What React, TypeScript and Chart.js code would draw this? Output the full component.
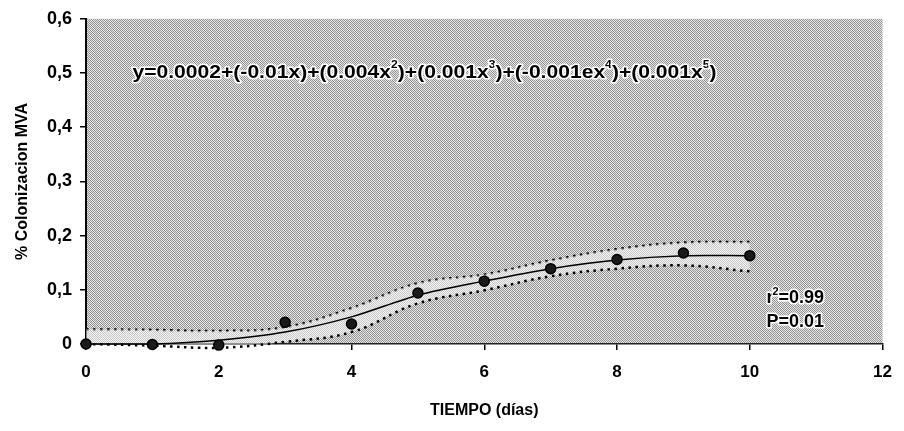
import React, { useEffect, useRef } from 'react';
import { Chart, registerables } from 'chart.js';

Chart.register(...registerables);

const days = [0, 1, 2, 3, 4, 5, 6, 7, 8, 9, 10];
const observed = [0, -0.001, -0.002, 0.04, 0.037, 0.094, 0.116, 0.139, 0.156, 0.168, 0.163];
const fitted = [0, 0, 0.007, 0.022, 0.05, 0.09, 0.116, 0.139, 0.155, 0.163, 0.163];
const upperBand = [0.027, 0.026, 0.024, 0.031, 0.066, 0.112, 0.128, 0.154, 0.175, 0.187, 0.188];
const lowerBand = [0, -0.003, -0.007, 0.004, 0.022, 0.075, 0.099, 0.125, 0.139, 0.145, 0.134];
const xTicks = [0, 2, 4, 6, 8, 10, 12];
const yTicks = [0, 0.1, 0.2, 0.3, 0.4, 0.5, 0.6];

const equationParts: [string, boolean][] = [
  ['y=0.0002+(-0.01x)+(0.004x', false],
  ['2', true],
  [')+(0.001x', false],
  ['3', true],
  [')+(-0.001ex', false],
  ['4', true],
  [')+(0.001x', false],
  ['5', true],
  [')', false],
];

const FONT = '"Liberation Sans", Arial, sans-serif';

function makePattern(ctx: CanvasRenderingContext2D) {
  const c = document.createElement('canvas');
  const n = 6;
  c.width = n;
  c.height = n;
  const g = c.getContext('2d')!;
  for (let y = 0; y < n; y++) {
    for (let x = 0; x < n; x++) {
      const dark = (x + y) % 2 === 0;
      const shade = (x + 2 * y) % 3 === 0;
      g.fillStyle = dark ? (shade ? '#858585' : '#9c9c9c') : (shade ? '#d8d8d8' : '#ececec');
      g.fillRect(x, y, 1, 1);
    }
  }
  return ctx.createPattern(c, 'repeat');
}

const backgroundPlugin = {
  id: 'plotBackground',
  beforeDraw(chart: any) {
    const { ctx, chartArea } = chart;
    ctx.save();
    ctx.fillStyle = makePattern(ctx) || '#b8b8b8';
    ctx.fillRect(chartArea.left, chartArea.top, chartArea.right - chartArea.left, chartArea.bottom - chartArea.top);
    ctx.restore();
  },
};

function haloText(ctx: CanvasRenderingContext2D, text: string, x: number, y: number) {
  ctx.lineWidth = 3;
  ctx.strokeStyle = '#ffffff';
  ctx.lineJoin = 'round';
  ctx.strokeText(text, x, y);
  ctx.fillStyle = '#000000';
  ctx.fillText(text, x, y);
}

const annotationPlugin = {
  id: 'annotations',
  afterDatasetsDraw(chart: any) {
    const { ctx } = chart;
    const xs = chart.scales.x;
    const ys = chart.scales.y;
    ctx.save();
    ctx.textBaseline = 'middle';
    ctx.textAlign = 'left';
    const main = `bold 19px ${FONT}`;
    const sup = `bold 11px ${FONT}`;
    let total = 0;
    for (const [t, s] of equationParts) {
      ctx.font = s ? sup : main;
      total += ctx.measureText(t).width;
    }
    const x0 = xs.getPixelForValue(0.7);
    const x1 = xs.getPixelForValue(9.5);
    const yEq = ys.getPixelForValue(0.5);
    const scale = (x1 - x0) / total;
    ctx.translate(x0, yEq);
    ctx.scale(scale, 1);
    let cx = 0;
    for (const [t, s] of equationParts) {
      ctx.font = s ? sup : main;
      haloText(ctx, t, cx, s ? -8 : 0);
      cx += ctx.measureText(t).width;
    }
    ctx.setTransform(1, 0, 0, 1, 0, 0);
    const rx = xs.getPixelForValue(10.25);
    const ry = ys.getPixelForValue(0.084);
    const py = ys.getPixelForValue(0.04);
    const rmain = `bold 18px ${FONT}`;
    ctx.font = rmain;
    haloText(ctx, 'r', rx, ry);
    const rw = ctx.measureText('r').width;
    ctx.font = sup;
    haloText(ctx, '2', rx + rw - 1, ry - 7);
    const sw = ctx.measureText('2').width;
    ctx.font = rmain;
    haloText(ctx, '=0.99', rx + rw + sw - 1, ry);
    haloText(ctx, 'P=0.01', rx, py);
    ctx.restore();
  },
};

function fmtY(v: number) {
  if (Math.abs(v) < 1e-9) return '0';
  return v.toFixed(1).replace('.', ',');
}

export default function App() {
  const ref = useRef<HTMLCanvasElement | null>(null);
  useEffect(() => {
    if (!ref.current) return;
    const pts = (arr: number[]) => days.map((d, i) => ({ x: d, y: arr[i] }));
    const chart = new Chart(ref.current, {
      type: 'scatter',
      data: {
        datasets: [
          {
            label: 'upper',
            type: 'line',
            data: pts(upperBand),
            borderColor: '#000',
            borderWidth: 2.5,
            borderDash: [2.5, 4.5],
            pointRadius: 0,
            tension: 0.4,
            fill: false,
            clip: false,
            order: 4,
          } as any,
          {
            label: 'lower',
            type: 'line',
            data: pts(lowerBand),
            borderColor: '#000',
            borderWidth: 2.5,
            borderDash: [2.5, 4.5],
            pointRadius: 0,
            tension: 0.4,
            fill: '-1',
            backgroundColor: 'rgba(255,255,255,0.5)',
            clip: false,
            order: 3,
          } as any,
          {
            label: 'fit',
            type: 'line',
            data: pts(fitted),
            borderColor: '#000',
            borderWidth: 1.5,
            pointRadius: 0,
            tension: 0.3,
            fill: false,
            clip: false,
            order: 2,
          } as any,
          {
            label: 'observed',
            data: pts(observed),
            pointRadius: 5,
            pointBackgroundColor: '#1a1a1a',
            pointBorderColor: '#000',
            pointBorderWidth: 1.5,
            showLine: false,
            clip: false,
            order: 1,
          } as any,
        ],
      },
      options: {
        animation: false,
        responsive: true,
        maintainAspectRatio: false,
        layout: { padding: { left: 0, right: 14, top: 17, bottom: 0 } },
        plugins: { legend: { display: false }, tooltip: { enabled: false } },
        scales: {
          x: {
            type: 'linear',
            min: 0,
            max: 12,
            afterBuildTicks: (s: any) => {
              s.ticks = xTicks.map((v) => ({ value: v }));
            },
            afterFit: (s: any) => {
              s.height = 87;
            },
            ticks: {
              color: '#000',
              font: { family: FONT, size: 17, weight: 'bold' },
              padding: 12,
              maxRotation: 0,
              callback: (v: any) => String(v),
            },
            grid: { display: true, drawOnChartArea: false, drawTicks: true, tickLength: 6, color: '#000', lineWidth: 1.5 },
            border: { display: true, color: '#222', width: 1.5 },
            title: {
              display: true,
              text: 'TIEMPO (días)',
              color: '#000',
              font: { family: FONT, size: 16, weight: 'bold' },
              padding: { top: 0, bottom: 11 },
            },
          },
          y: {
            type: 'linear',
            min: 0,
            max: 0.6,
            afterBuildTicks: (s: any) => {
              s.ticks = yTicks.map((v) => ({ value: v }));
            },
            afterFit: (s: any) => {
              s.width = 86;
            },
            ticks: {
              color: '#000',
              font: { family: FONT, size: 18, weight: 'bold' },
              padding: 8,
              callback: (v: any) => fmtY(Number(v)),
            },
            grid: { display: true, drawOnChartArea: false, drawTicks: true, tickLength: 6, color: '#000', lineWidth: 1.5 },
            border: { display: true, color: '#000', width: 2 },
            title: {
              display: true,
              text: '% Colonizacion MVA',
              color: '#000',
              font: { family: FONT, size: 16, weight: 'bold' },
              padding: { top: 13, bottom: 0 },
            },
          },
        },
      },
      plugins: [backgroundPlugin, annotationPlugin],
    });
    return () => chart.destroy();
  }, []);
  return (
    <div style={{ position: 'absolute', left: 0, top: 0, width: 904, height: 431, background: '#fff' }}>
      <canvas ref={ref} />
    </div>
  );
}
